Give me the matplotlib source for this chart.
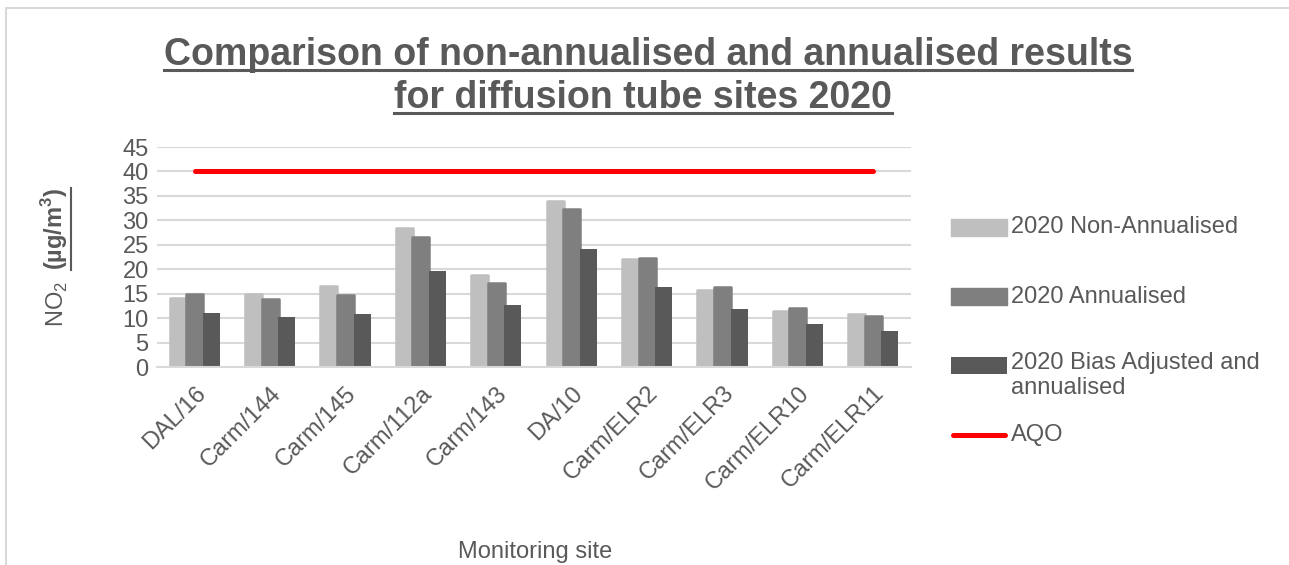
import matplotlib
matplotlib.use("Agg")
import matplotlib.pyplot as plt
import numpy as np
from matplotlib.lines import Line2D
from matplotlib.patches import Rectangle

plt.rcParams['font.family'] = ['Liberation Sans', 'DejaVu Sans']
plt.rcParams['mathtext.fontset'] = 'custom'
plt.rcParams['mathtext.rm'] = 'Liberation Sans'
plt.rcParams['mathtext.bf'] = 'Liberation Sans:bold'

# data
sites = ["DAL/16", "Carm/144", "Carm/145", "Carm/112a", "Carm/143",
         "DA/10", "Carm/ELR2", "Carm/ELR3", "Carm/ELR10", "Carm/ELR11"]
non_annualised = [14.2, 15.0, 16.6, 28.5, 18.9, 34.0, 22.0, 15.7, 11.4, 10.8]
annualised = [15.0, 13.9, 14.8, 26.5, 17.2, 32.4, 22.2, 16.3, 12.0, 10.4]
bias_adjusted = [11.0, 10.2, 10.8, 19.6, 12.6, 24.1, 16.4, 11.8, 8.7, 7.4]
aqo = [40] * len(sites)

series_labels = ["2020 Non-Annualised", "2020 Annualised",
                 "2020 Bias Adjusted and\nannualised", "AQO"]

TXT = "#595959"
C_LIGHT, C_MID, C_DARK = "#bfbfbf", "#7f7f7f", "#595959"
GRID = "#d9d9d9"
W, H = 1289, 565
FS = 17

fig = plt.figure(figsize=(W / 100, H / 100), dpi=100)
ax = fig.add_axes([157 / W, 1 - 367 / H, (911 - 157) / W, (367 - 147) / H])

x = np.arange(len(sites))
bw = 0.225
ax.bar(x - 0.22, non_annualised, bw, color=C_LIGHT, edgecolor=C_LIGHT,
       linewidth=1.8, joinstyle='round', zorder=2)
ax.bar(x, annualised, bw, color=C_MID, edgecolor=C_MID,
       linewidth=1.8, joinstyle='round', zorder=2)
ax.bar(x + 0.22, bias_adjusted, bw, color=C_DARK, linewidth=0, zorder=2)
ax.plot(x, aqo, color="#ff0000", lw=3.6, solid_capstyle='round', zorder=3)

ax.set_xlim(-0.5, len(sites) - 0.5)
ax.set_ylim(0, 45)
ax.set_yticks(range(0, 46, 5))
ax.grid(axis='y', color=GRID, lw=1.5, zorder=0)
ax.set_axisbelow(True)
for s in ['top', 'right', 'left']:
    ax.spines[s].set_visible(False)
ax.spines['bottom'].set_color(GRID)
ax.spines['bottom'].set_linewidth(1.5)
ax.tick_params(axis='both', length=0, labelsize=FS, labelcolor=TXT)
ax.tick_params(axis='y', pad=6)
ax.tick_params(axis='x', pad=11)
ax.set_xticks(x)
ax.set_xticklabels(sites, rotation=45, ha='right', va='top',
                   rotation_mode='anchor')

fig.text(535 / W, 1 - 552 / H, "Monitoring site", ha='center', va='center',
         fontsize=FS, color=TXT)

# title, two underlined lines
t1 = fig.text(648 / W, 1 - 65 / H,
              "Comparison of non-annualised and annualised results",
              ha='center', va='baseline', fontsize=27, fontweight='bold', color=TXT)
t2 = fig.text(643 / W, 1 - 108 / H, "for diffusion tube sites 2020",
              ha='center', va='baseline', fontsize=27, fontweight='bold', color=TXT)

# y label in two parts, second part underlined
yl1 = fig.text(57 / W, 1 - 304 / H, "NO$_2$", rotation=90, ha='center',
               va='center', fontsize=FS, color=TXT)
yl2 = fig.text(55 / W, 1 - 229 / H, "(µg/m$^\\mathbf{3}$)", rotation=90,
               ha='center', va='center', fontsize=FS, color=TXT,
               fontweight='bold')

# legend drawn by hand to match spacing
leg_rows = [227, 297, 365, 435]
for i, (lab, c) in enumerate(zip(series_labels[:3], [C_LIGHT, C_MID, C_DARK])):
    yc = 1 - leg_rows[i] / H
    fig.add_artist(Rectangle((951 / W, yc - 8.5 / H), 56 / W, 17 / H,
                             transform=fig.transFigure, facecolor=c,
                             edgecolor=c if i < 2 else 'none', lw=1,
                             joinstyle='round'))
    if i < 2:
        fig.text(1011 / W, yc, lab, ha='left', va='center',
                 fontsize=FS, color=TXT)
    else:
        fig.text(1011 / W, yc + 13 / H, lab, ha='left', va='top',
                 fontsize=FS, color=TXT, linespacing=1.15)
yc = 1 - leg_rows[3] / H
fig.add_artist(Line2D([953 / W, 1005 / W], [yc, yc], color="#ff0000", lw=3.6,
                      solid_capstyle='round', transform=fig.transFigure))
fig.text(1011 / W, yc, series_labels[3], ha='left', va='center',
         fontsize=FS, color=TXT)

# chart area border, only left and top visible (cropped elsewhere)
fig.add_artist(Line2D([6 / W, 6 / W, 1.0], [0.0, 1 - 8 / H, 1 - 8 / H],
                      color=GRID, lw=1.5, transform=fig.transFigure))

# underlines
fig.canvas.draw()
r = fig.canvas.get_renderer()
inv = fig.transFigure.inverted()
for t in (t1, t2):
    bb = t.get_window_extent(r)
    yb = fig.transFigure.transform(t.get_position())[1] - 5
    (a, b), (c, d) = inv.transform([[bb.x0, yb], [bb.x1, yb]])
    fig.add_artist(Line2D([a, c], [b, d], color=TXT, lw=2.2,
                          transform=fig.transFigure))
bb = yl2.get_window_extent(r)
(a, b), (c, d) = inv.transform([[bb.x1 + 1, bb.y0], [bb.x1 + 1, bb.y1]])
fig.add_artist(Line2D([a, c], [b, d], color=TXT, lw=1.5,
                      transform=fig.transFigure))

fig.savefig("out.png", dpi=100)
